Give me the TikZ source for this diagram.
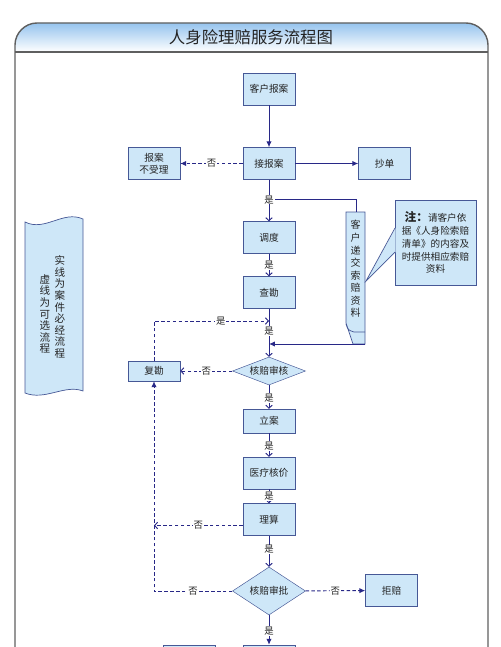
\documentclass[tikz,border=0pt]{standalone}
\usepackage{fontspec}
\usepackage{tikz}
\usetikzlibrary{shapes.geometric}
\usetikzlibrary{arrows.meta}
\usetikzlibrary{calc}
\newfontfamily\cjk{Noto Sans CJK SC}
\definecolor{boxfill}{RGB}{206,231,248}
\definecolor{boxline}{RGB}{70,88,150}
\definecolor{flow}{RGB}{40,40,135}
\definecolor{frameline}{RGB}{95,95,95}
\definecolor{headblue}{RGB}{150,196,238}
\definecolor{ink}{RGB}{35,35,35}

\tikzset{
	box/.style={draw=boxline, fill=boxfill, text=ink, font=\cjk\fontsize{8.3}{10}\selectfont, minimum width=1.56cm, minimum height=0.96cm, inner sep=1pt, align=center},
	check/.style={diamond, aspect=2.6, draw=boxline, fill=boxfill, text=ink, font=\cjk\fontsize{8.3}{10}\selectfont, minimum width=2.19cm, minimum height=0.84cm, inner sep=0pt},
	tag/.style={fill=white, text=ink, font=\cjk\fontsize{8}{9}\selectfont, inner sep=0.6pt},
	must/.style={draw=flow, line width=0.8pt},
	may/.style={draw=flow, line width=0.8pt, dash pattern=on 3pt off 2pt},
	headfull/.style={-{Latex[length=5pt,width=4.5pt]}},
	headopen/.style={-{Straight Barb[length=2.5pt,width=5.5pt]}}
}

\begin{document}
\begin{tikzpicture}[x=0.03cm, y=-0.03cm]
	\useasboundingbox (0,0) rectangle (500,647);
	\clip (0,0) rectangle (500,647);
	\shade[top color=headblue, bottom color=white] (15,52) -- (15,45) .. controls (15,33) and (25,23) .. (37,23) -- (466,23) .. controls (478,23) and (488,33) .. (488,45) -- (488,52) -- cycle;
	\draw[frameline, line width=1.2pt] (15,647) -- (15,45) .. controls (15,33) and (25,23) .. (37,23) -- (466,23) .. controls (478,23) and (488,33) .. (488,45) -- (488,647);
	\draw[frameline, line width=1pt] (15,52) -- (488,52);
	\node[text=ink, font=\cjk\fontsize{14}{16}\selectfont] (title) at (251,37) {人身险理赔服务流程图};

	\draw[boxline, fill=boxfill, line width=0.6pt] (25,222) .. controls (45,232) and (63,210) .. (83,219) -- (83,391) .. controls (65,384) and (45,401) .. (25,393) -- cycle;
	\node[text=ink, font=\cjk\fontsize{9}{9.9}\selectfont, align=center] (solidnote) at (60,307) {实\\线\\为\\案\\件\\必\\经\\流\\程};
	\node[text=ink, font=\cjk\fontsize{9}{9.9}\selectfont, align=center] (dashnote) at (45,314) {虚\\线\\为\\可\\选\\流\\程};

	\node[box] (report) at (269,89) {客户报案};
	\node[box] (accept) at (269,163.5) {接报案};
	\node[box] (reject) at (154,163.5) {报案\\不受理};
	\node[box] (copy) at (384.5,163.5) {抄单};
	\node[box] (dispatch) at (269,237.5) {调度};
	\node[box] (survey) at (269,292.5) {查勘};
	\node[check] (audit) at (269,371) {核赔审核};
	\node[box, minimum height=0.6cm] (resurvey) at (154,371) {复勘};
	\node[box, minimum height=0.72cm] (register) at (269,421) {立案};
	\node[box] (pricing) at (269,473) {医疗核价};
	\node[box] (settle) at (269,519.5) {理算};
	\node[check, minimum height=1.44cm] (approve) at (269,591) {核赔审批};
	\node[box] (refuse) at (391.5,590.5) {拒赔};
	\node[box] (nextleft) at (189,661) {};
	\node[box] (nextmain) at (269,661) {};

	\draw[boxline, fill=boxfill, line width=0.6pt] (346,212) -- (365,212) -- (365,344) -- (353,344) -- (346,323) -- cycle;
	\draw[boxline, line width=0.6pt] (346,324) .. controls (348,330) .. (354,332) -- (365,332);
	\node[text=ink, font=\cjk\fontsize{8.5}{10.7}\selectfont, align=center] (submit) at (355.5,269) {客\\户\\递\\交\\索\\赔\\资\\料};
	\coordinate (submittop) at (356,212);
	\coordinate (submitbase) at (365,344);

	\node[box, minimum width=2.43cm, minimum height=2.55cm, font=\cjk\fontsize{8.2}{11}\selectfont] (note) at (435.5,242.5) {{\bfseries\fontsize{10}{11}\selectfont 注：}请客户依\\据《人身险索赔\\清单》的内容及\\时提供相应索赔\\资料};
	\fill[boxfill] (395.6,228) -- (366,281) -- (395.6,252) -- cycle;
	\draw[boxline, line width=0.6pt] (395,228) -- (366,281) -- (395,252);

	\coordinate (loopjoin) at (269,321);
	\coordinate (settleout) at ($(settle.west)+(0,6)$);

	\draw[must, headfull] (report) -- (accept);
	\draw[must, headfull] (accept) -- (copy);
	\draw[may, headfull] (accept) -- node[tag] (noA) {否} (reject);
	\draw[must, headopen] (accept) -- node[tag, pos=0.48] (yesA) {是} (dispatch);
	\draw[must, headopen] (dispatch) -- node[tag] (yesB) {是} (survey);
	\draw[must, headopen] (survey) -- node[tag, pos=0.47] (yesC) {是} (audit);
	\draw[must, headopen] (audit) -- node[tag, pos=0.54] (yesD) {是} (register);
	\draw[must, headopen] (register) -- node[tag, pos=0.54] (yesE) {是} (pricing);
	\draw[must, headopen] (pricing) -- node[tag, pos=0.47] (yesF) {是} (settle);
	\draw[must, headopen] (settle) -- node[tag, pos=0.44] (yesG) {是} (approve);
	\draw[must, headfull] (approve) -- node[tag, pos=0.53] (yesH) {是} (nextmain);
	\draw[must] (yesA.east) -| (submittop);
	\draw[must, headfull] (submitbase) -- (submitbase -| survey);

	\draw[may, headopen] (audit) -- node[tag] (noB) {否} (resurvey);
	\draw[may, headopen] (resurvey) |- node[tag, pos=0.79] (yesloop) {是} (loopjoin);
	\draw[may, headopen] (settleout) -- node[tag] (noD) {否} (resurvey |- settleout);
	\draw[may, headfull] (approve) -- node[tag] (noC) {否} (resurvey |- approve) -- (resurvey);
	\draw[may, headfull] (approve) -- node[tag] (noE) {否} (refuse);
\end{tikzpicture}
\end{document}
